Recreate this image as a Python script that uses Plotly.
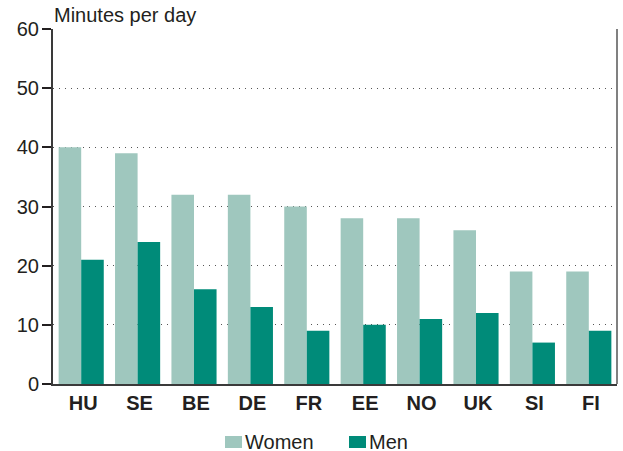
import plotly.graph_objects as go

countries = ["HU", "SE", "BE", "DE", "FR", "EE", "NO", "UK", "SI", "FI"]
women = [40, 39, 32, 32, 30, 28, 28, 26, 19, 19]
men = [21, 24, 16, 13, 9, 10, 11, 12, 7, 9]
y_ticks = [0, 10, 20, 30, 40, 50, 60]
series_names = ["Women", "Men"]
series_colors = ["#9fc7be", "#008b79"]

TXT = "#231f20"
FONT = "Liberation Sans, Arial, sans-serif"
W, H = 623, 451
ML, MR, MT, MB = 53, 6, 29, 67
PW, PH = W - ML - MR, H - MT - MB


def px_x(px):
    return (px - ML) / PW


def px_y(py):
    return (H - MB - py) / PH


fig = go.Figure()
for name, vals, col in zip(series_names, [women, men], series_colors):
    fig.add_trace(go.Bar(x=countries, y=vals, name=name, marker=dict(color=col, line_width=0)))

# legend drawn as layout items to match original placement
legend_swatch_x = [225, 349]
legend_shapes = []
legend_annots = []
for name, col, sx in zip(series_names, series_colors, legend_swatch_x):
    legend_shapes.append(dict(type="rect", xref="paper", yref="paper",
                              x0=px_x(sx), x1=px_x(sx + 17), y0=px_y(448), y1=px_y(436),
                              fillcolor=col, line_width=0, layer="above"))
    legend_annots.append(dict(text=name, xref="paper", yref="paper", x=px_x(sx + 18), y=px_y(441.5),
                              xanchor="left", yanchor="middle", showarrow=False,
                              font=dict(size=20, family=FONT, color=TXT)))

fig.update_layout(
    width=W, height=H,
    margin=dict(l=ML, r=MR, t=MT, b=MB),
    paper_bgcolor="white", plot_bgcolor="white",
    barmode="group", bargap=0.2, bargroupgap=0,
    font=dict(family=FONT, color=TXT, size=20),
    showlegend=False,
    xaxis=dict(showline=True, linecolor="#3a3a3a", linewidth=2, ticks="",
               tickfont=dict(size=20, family=FONT, color=TXT, weight="bold"),
               ticklabelshift=2,
               showgrid=False, zeroline=False, automargin=False),
    yaxis=dict(range=[0, 60], tickvals=y_ticks, showline=True, linecolor="#3a3a3a", linewidth=2,
               ticks="outside", ticklen=9, tickwidth=2, tickcolor=TXT,
               tickfont=dict(size=20, family=FONT, color=TXT), ticklabelstandoff=-1,
               showgrid=True, gridcolor="#555555", griddash="1px,5px", gridwidth=1.3,
               zeroline=False, automargin=False),
    annotations=[dict(text="Minutes per day", xref="paper", yref="paper", x=0, y=1,
                      xanchor="left", yanchor="bottom", yshift=1, xshift=-1, showarrow=False,
                      font=dict(size=20, family=FONT, color=TXT))] + legend_annots,
    shapes=[dict(type="line", xref="paper", yref="paper", x0=1, x1=1, y0=0, y1=1,
                 line=dict(color="#808080", width=2))] + legend_shapes,
)

fig.write_html("out.html", config={"displayModeBar": False},
               post_script="document.body.style.margin='0';document.body.style.overflow='hidden';")
